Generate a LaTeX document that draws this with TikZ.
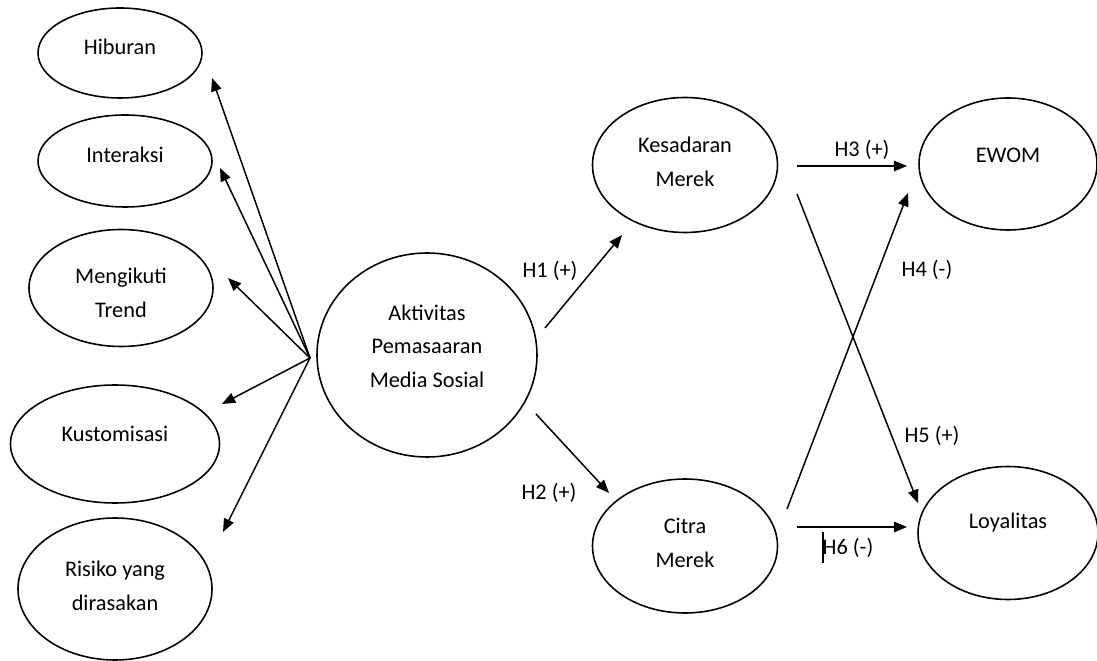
\documentclass[tikz,border=0pt]{standalone}
\usepackage{fontspec}
\setmainfont{Carlito}
\usetikzlibrary{shapes.geometric,arrows.meta}
\begin{document}
\begin{tikzpicture}[x=0.02cm,y=-0.02cm,
  ell/.style 2 args={ellipse,draw,line width=0.9pt,inner sep=0pt,minimum width=#1*0.02cm,minimum height=#2*0.02cm},
  txt/.style={align=center,inner sep=0pt,font=\fontsize{12.7}{19}\selectfont},
  lbl/.style={inner sep=0pt,font=\fontsize{12.7}{19}\selectfont},
  arr/.style={line width=0.85pt,-{Triangle[length=7.5pt,width=6pt]}},
  ln/.style={line width=0.85pt}]
\useasboundingbox (0,0) rectangle (1097,661);
% left ellipses
\node[ell={164}{90}] (hib) at (120,53) {};
\node[txt] (thib) at (120,47) {Hiburan};
\node[ell={174}{92}] (int) at (125,161) {};
\node[txt] (tint) at (125,155) {Interaksi};
\node[ell={184}{117}] (ment) at (121,288) {};
\node[txt] (tment) at (121,293) {Mengikuti\\Trend};
\node[ell={209}{118}] (kus) at (115,444) {};
\node[txt] (tkus) at (115,434) {Kustomisasi};
\node[ell={194}{142}] (ris) at (115,589) {};
\node[txt] (tris) at (115,586) {Risiko yang\\dirasakan};
% center
\node[ell={220}{204}] (akt) at (427,355) {};
\node[txt] (takt) at (427,346) {Aktivitas\\Pemasaaran\\Media Sosial};
% right
\node[ell={185}{135}] (kes) at (685,165) {};
\node[txt] (tkes) at (685,162) {Kesadaran\\Merek};
\node[ell={178}{132}] (ewom) at (1008,164) {};
\node[txt] (tewom) at (1008,155) {EWOM};
\node[ell={185}{134}] (cit) at (685,546) {};
\node[txt] (tcit) at (685,543) {Citra\\Merek};
\node[ell={180}{133}] (loy) at (1008,533) {};
\node[txt] (tloy) at (1008,523) {Loyalitas};
% coordinates
\coordinate (hub) at (310,358);
\coordinate (aHib) at (212,78);
\coordinate (aInt) at (220,168);
\coordinate (aMen) at (228,278);
\coordinate (aKus) at (222,404);
\coordinate (aRis) at (223,532);
\coordinate (s1) at (545,328);
\coordinate (e1) at (622,235);
\coordinate (s2) at (536,414);
\coordinate (e2) at (609,493);
\coordinate (s3) at (797,166);
\coordinate (e3) at (907,166);
\coordinate (s4) at (787,509);
\coordinate (e4) at (908,193);
\coordinate (s5) at (797,194);
\coordinate (e5) at (918,503);
\coordinate (s6) at (797,527);
\coordinate (e6) at (907,527);
% arrows
\draw[arr] (hub) -- (aHib);
\draw[arr] (hub) -- (aInt);
\draw[arr] (hub) -- (aMen);
\draw[arr] (hub) -- (aKus);
\draw[arr] (hub) -- (aRis);
\draw[arr] (s1) -- (e1);
\draw[arr] (s2) -- (e2);
\draw[arr] (s3) -- (e3);
\draw[arr] (s4) -- (e4);
\draw[arr] (s5) -- (e5);
\draw[arr] (s6) -- (e6);
% labels
\node[lbl] (h1) at (550,271) {H1 (+)};
\node[lbl] (h2) at (549,493) {H2 (+)};
\node[lbl] (h3) at (862,150) {H3 (+)};
\node[lbl] (h4) at (927,270) {H4 (-)};
\node[lbl] (h5) at (932,436) {H5 (+)};
\node[lbl] (h6) at (848,548) {H6 (-)};
\coordinate (c1) at (823,532);
\coordinate (c2) at (823,563);
\draw[line width=0.9pt] (c1) -- (c2);
\end{tikzpicture}
\end{document}
